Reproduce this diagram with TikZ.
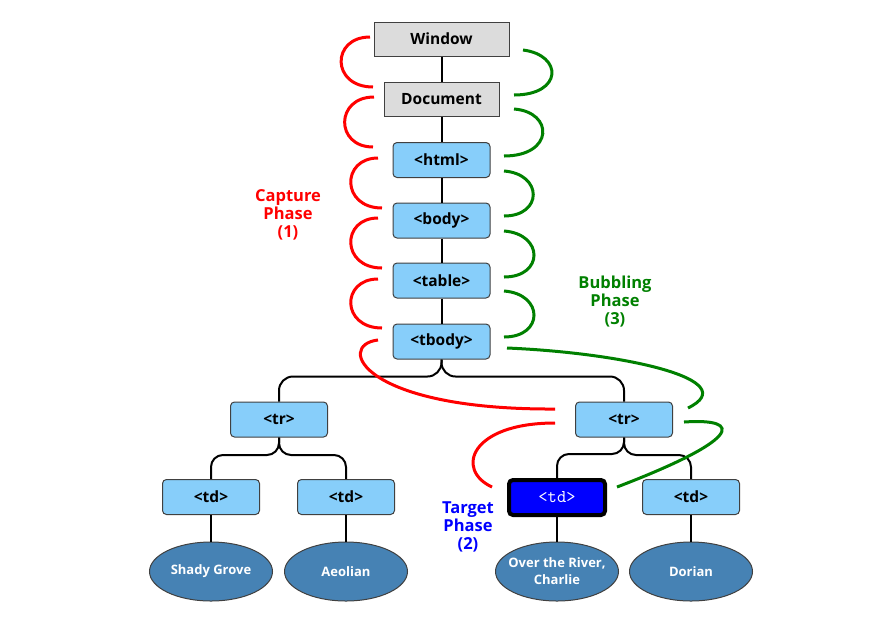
\documentclass[tikz,border=0pt]{standalone}
\usepackage{fontspec}
\setmainfont{Open Sans}
\usetikzlibrary{shapes.geometric}
\definecolor{elemfill}{HTML}{87CEFA}
\definecolor{leaffill}{HTML}{4682B4}
\definecolor{winfill}{HTML}{DCDCDC}
\definecolor{bubgreen}{HTML}{008000}
\begin{document}
\begin{tikzpicture}[x=1pt,y=-1pt,
  base/.style={draw=black!75, line width=1pt, font=\bfseries\fontsize{15.5}{17}\selectfont, inner sep=0pt},
  winbox/.style={base, fill=winfill, minimum height=34pt},
  elbox/.style={base, fill=elemfill, rounded corners=4pt, minimum width=97pt, minimum height=35pt},
  targetbox/.style={draw=black, line width=4pt, fill=blue, text=white, rounded corners=4pt,
    minimum width=96pt, minimum height=35pt, inner sep=0pt, font=\ttfamily\fontsize{18}{20}\selectfont},
  leaf/.style={ellipse, draw=black!75, line width=1pt, fill=leaffill, text=white,
    font=\bfseries\fontsize{13}{17}\selectfont, minimum width=123pt, minimum height=59pt,
    inner ysep=0pt, inner xsep=-8pt, align=center},
  link/.style={line width=2pt, black},
  capline/.style={red, line width=3pt},
  bubline/.style={bubgreen, line width=3pt},
  lbl/.style={align=center, font=\bfseries\fontsize{16.5}{18}\selectfont}
]
\useasboundingbox (0,0) rectangle (875,625);

% document tree
\node[winbox, minimum width=135pt] (win) at (441.5,39) {Window};
\node[winbox, minimum width=115pt] (doc) at (441.5,99.5) {Document};
\node[elbox] (html) at (441.5,160) {<html>};
\node[elbox] (body) at (441.5,220.5) {<body>};
\node[elbox] (table) at (441.5,280.5) {<table>};
\node[elbox] (tbody) at (441.5,341.5) {<tbody>};
\node[elbox] (trL) at (279,419.5) {<tr>};
\node[elbox] (trR) at (624,419.5) {<tr>};
\node[elbox] (tdA) at (211,497) {<td>};
\node[elbox] (tdB) at (346,497) {<td>};
\node[targetbox] (tdT) at (557,497.5) {<td>};
\node[elbox] (tdD) at (691,497) {<td>};
\node[leaf] (lfA) at (211,571.5) {Shady Grove};
\node[leaf] (lfB) at (346,571.5) {Aeolian};
\node[leaf] (lfT) at (557,571.5) {Over the River,\\Charlie};
\node[leaf] (lfD) at (691,571.5) {Dorian};

% parent-child links
\draw[link] (win) -- (doc);
\draw[link] (doc) -- (html);
\draw[link] (html) -- (body);
\draw[link] (body) -- (table);
\draw[link] (table) -- (tbody);
\draw[link, rounded corners=14pt] (tbody.south) |- ([yshift=25pt]trL.north) -- (trL.north);
\draw[link, rounded corners=14pt] (tbody.south) |- ([yshift=25pt]trR.north) -- (trR.north);
\draw[link, rounded corners=12pt] (trL.south) |- ([yshift=24pt]tdA.north) -- (tdA.north);
\draw[link, rounded corners=12pt] (trL.south) |- ([yshift=24pt]tdB.north) -- (tdB.north);
\draw[link, rounded corners=12pt] (trR.south) |- ([yshift=24pt]tdT.north) -- (tdT.north);
\draw[link, rounded corners=12pt] (trR.south) |- ([yshift=24pt]tdD.north) -- (tdD.north);
\draw[link] (tdA) -- (lfA);
\draw[link] (tdB) -- (lfB);
\draw[link] (tdT) -- (lfT);
\draw[link] (tdD) -- (lfD);

% capture path
\draw[capline] (370,37) .. controls (331,37) and (331,87) .. (373,87);
\draw[capline] (374,97) .. controls (335,97) and (335,147) .. (373,147);
\draw[capline] (378,158) .. controls (341,158) and (341,208) .. (382,208);
\draw[capline] (378,218) .. controls (341,218) and (341,268) .. (382,268);
\draw[capline] (378,279) .. controls (341,279) and (341,328) .. (382,328);
\draw[capline] (378,340) .. controls (335,345) and (362,410) .. (555,409);
\draw[capline] (555,423) .. controls (470,423) and (455,470) .. (492,487);

% bubbling path
\draw[bubline] (523,50) .. controls (563,55) and (563,95) .. (514,95);
\draw[bubline] (514,109) .. controls (554,112) and (554,156) .. (504,156);
\draw[bubline] (504,171) .. controls (543,174) and (543,216) .. (504,216);
\draw[bubline] (504,231) .. controls (544,234) and (544,277) .. (504,277);
\draw[bubline] (504,291) .. controls (544,294) and (544,337) .. (504,337);
\draw[bubline] (507,348) .. controls (625,353) and (745,380) .. (688,408);
\draw[bubline] (684,422) .. controls (745,418) and (740,440) .. (617,487);

% phase labels
\node[lbl, text=red] (lcap) at (288,215) {Capture\\Phase\\(1)};
\node[lbl, text=bubgreen] (lbub) at (615,302) {Bubbling\\Phase\\(3)};
\node[lbl, text=blue] (ltgt) at (468,527) {Target\\Phase\\(2)};
\end{tikzpicture}
\end{document}
